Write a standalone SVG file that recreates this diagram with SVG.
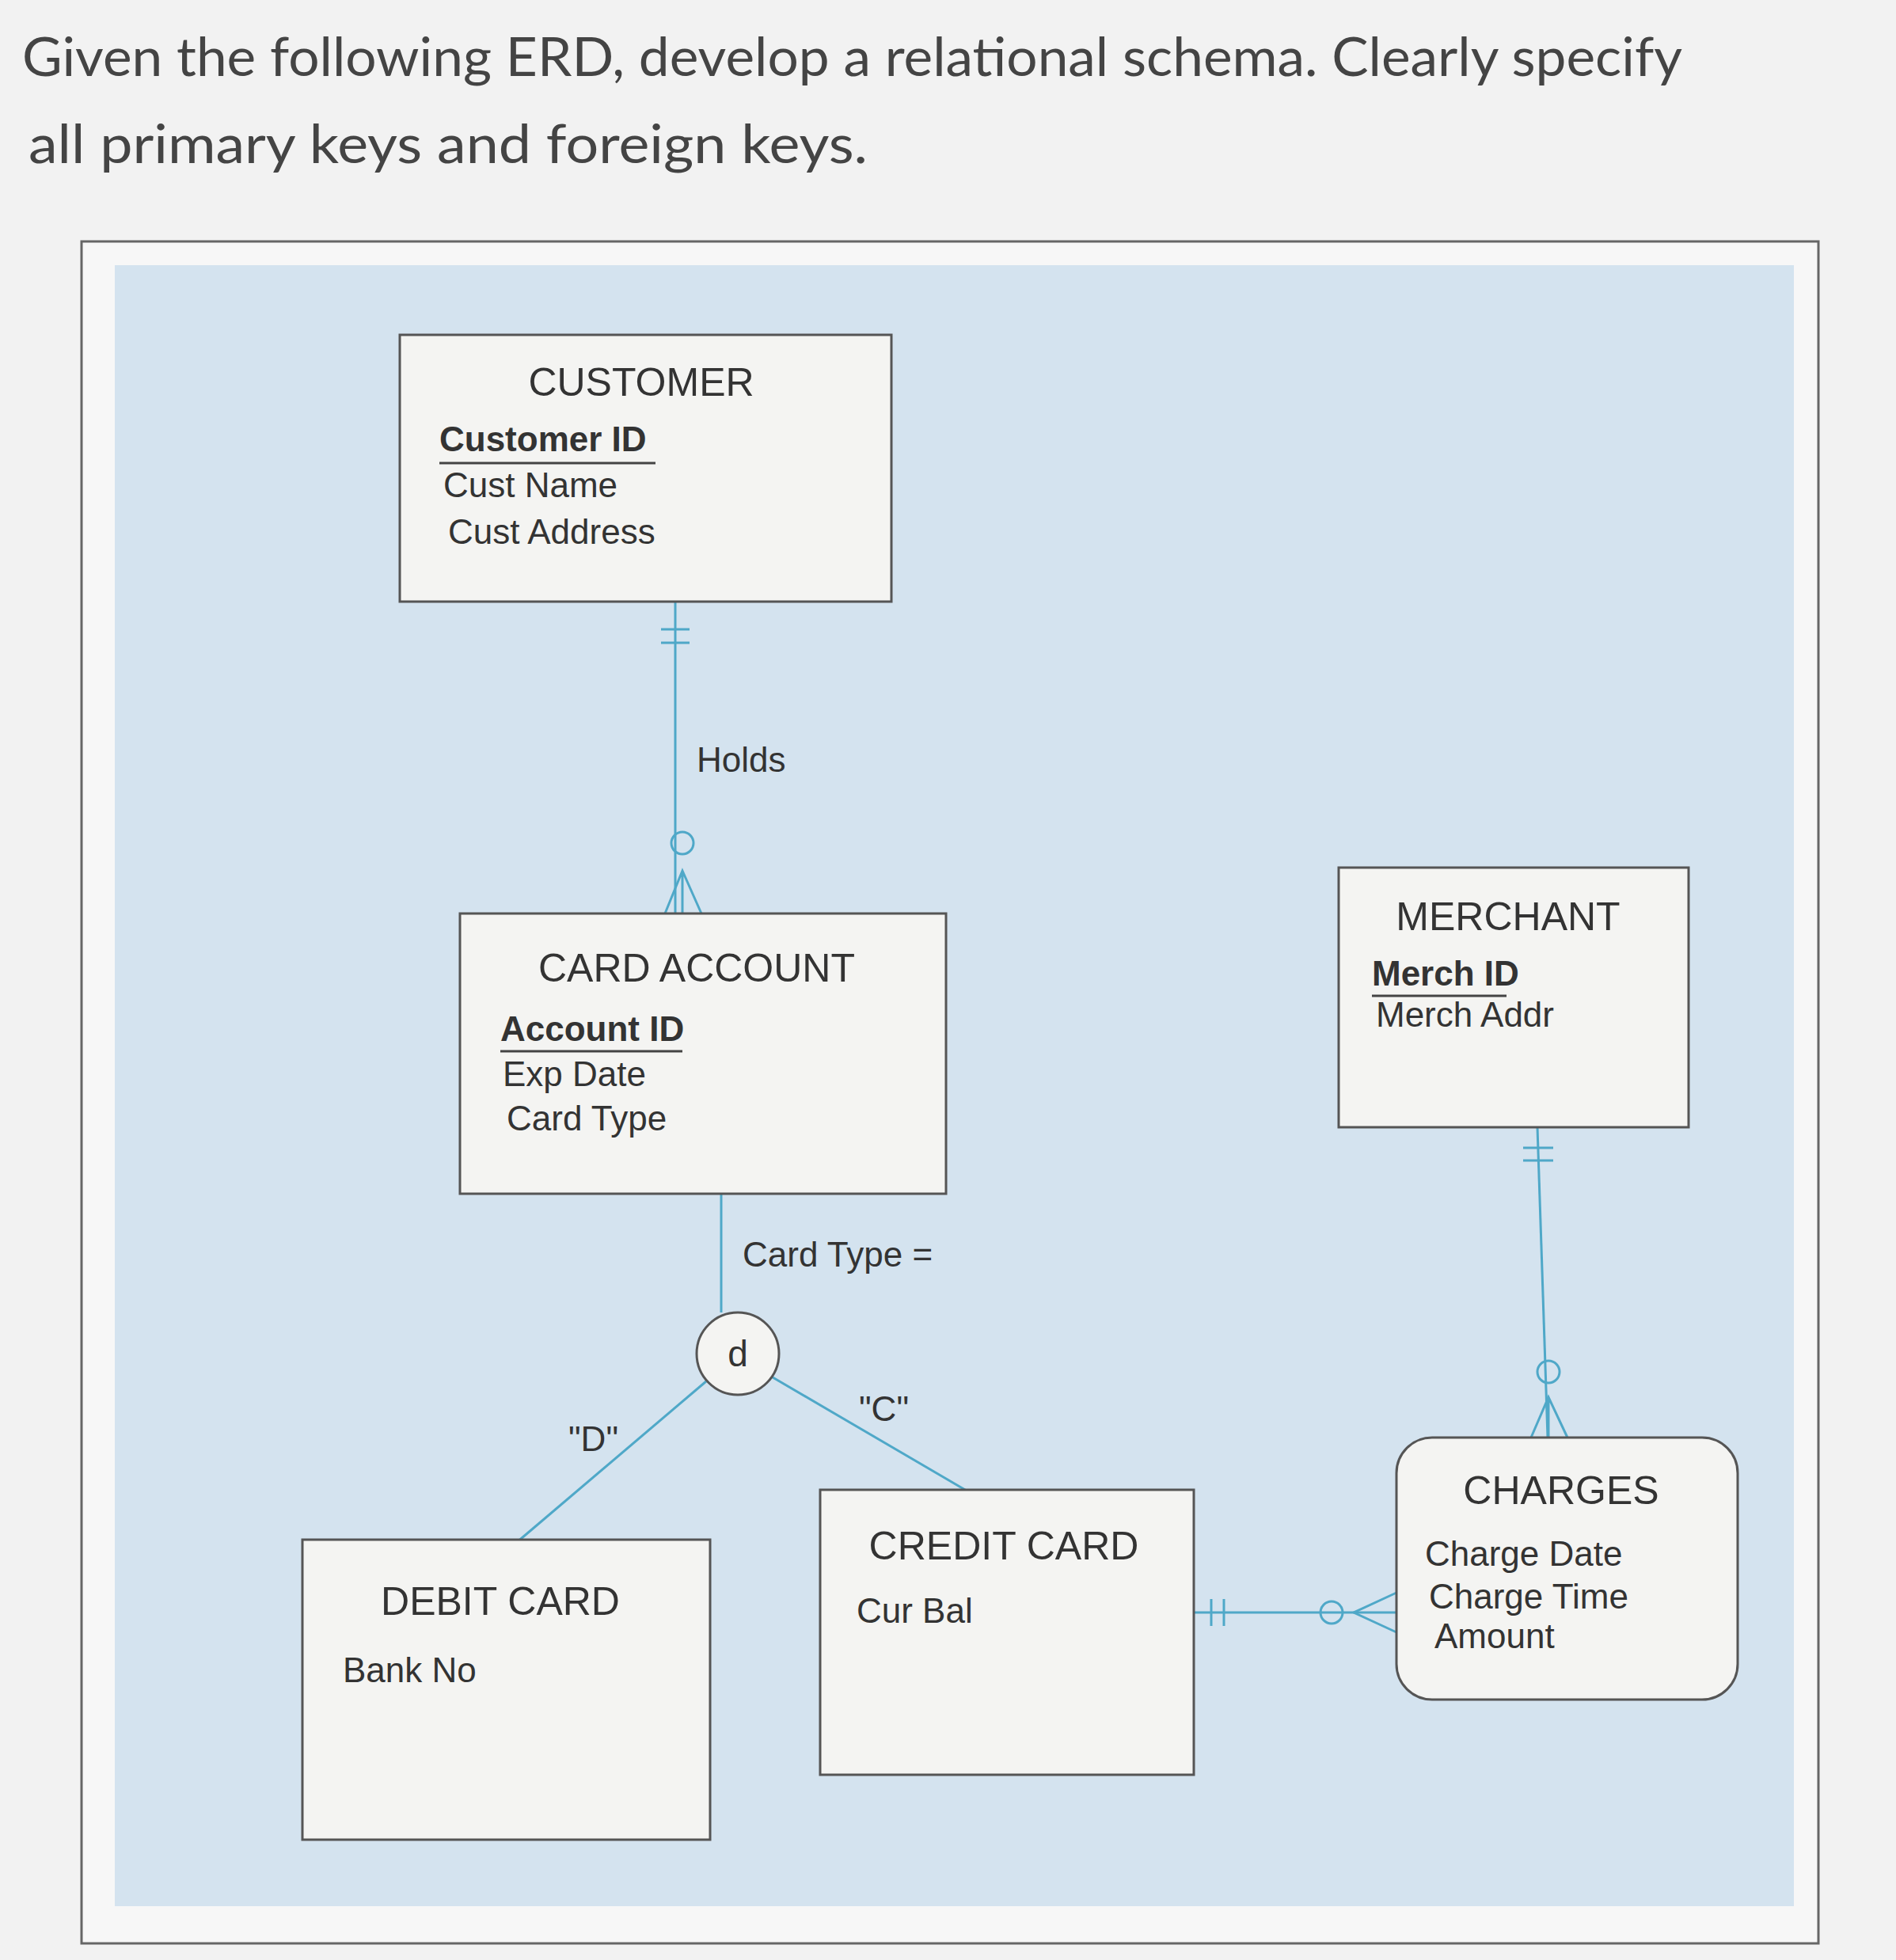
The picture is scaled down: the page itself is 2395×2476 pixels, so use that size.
<svg xmlns="http://www.w3.org/2000/svg" width="2395" height="2476" viewBox="0 0 2395 2476">
<style>
.t{font-family:"Liberation Sans",Arial,sans-serif;fill:#333}
.h{font-family:"Lato","Liberation Sans",sans-serif;fill:#444;font-size:68px}
.e{fill:#f4f4f2;stroke:#555;stroke-width:3}
.c{stroke:#4fa8c8;stroke-width:3;fill:none}
.n{font-size:50px}
.a{font-size:44px}
.u{stroke:#444;stroke-width:3}
</style>
<rect width="2395" height="2476" fill="#f2f2f2"/>
<text class="h" x="28" y="96" textLength="2097" lengthAdjust="spacingAndGlyphs">Given the following ERD, develop a relational schema. Clearly specify</text>
<text class="h" x="36" y="206" textLength="1060" lengthAdjust="spacingAndGlyphs">all primary keys and foreign keys.</text>
<rect x="103" y="305" width="2194" height="2150" fill="#f7f7f7" stroke="#666" stroke-width="3"/>
<rect x="145" y="335" width="2121" height="2073" fill="#d4e3ef"/>
<g id="connectors">
<line class="c" x1="853" y1="760" x2="853" y2="1154"/>
<line class="c" x1="835" y1="795" x2="871" y2="795"/><line class="c" x1="835" y1="812" x2="871" y2="812"/>
<circle class="c" cx="862" cy="1065" r="14"/>
<path class="c" d="M840 1154 L862 1100 L886 1154 M862 1100 L862 1154"/>
<line class="c" x1="911" y1="1508" x2="911" y2="1658"/>
<line class="c" x1="892" y1="1745" x2="632" y2="1966"/>
<line class="c" x1="971" y1="1737" x2="1255" y2="1903"/>
<line class="c" x1="1942" y1="1424" x2="1955" y2="1816"/>
<line class="c" x1="1924" y1="1450" x2="1962" y2="1450"/><line class="c" x1="1924" y1="1466" x2="1962" y2="1466"/>
<circle class="c" cx="1956" cy="1733" r="14"/>
<path class="c" d="M1934 1816 L1956 1765 L1980 1816 M1956 1765 L1956 1816"/>
<line class="c" x1="1508" y1="2037" x2="1764" y2="2037"/>
<line class="c" x1="1530" y1="2020" x2="1530" y2="2054"/><line class="c" x1="1546" y1="2020" x2="1546" y2="2054"/>
<circle class="c" cx="1682" cy="2037" r="14"/>
<path class="c" d="M1764 2012 L1710 2037 L1764 2062"/>
</g>
<g id="labels" class="t">
<text x="880" y="975" class="a">Holds</text>
<text x="938" y="1600" class="a">Card Type =</text>
<text x="718" y="1833" class="a">"D"</text>
<text x="1085" y="1795" class="a">"C"</text>
</g>
<g id="customer"><rect class="e" x="505" y="423" width="621" height="337"/>
<text class="t n" x="810" y="500" text-anchor="middle">CUSTOMER</text>
<text class="t a" x="555" y="570" font-weight="bold">Customer ID</text><line class="u" x1="555" y1="585" x2="828" y2="585"/>
<text class="t a" x="560" y="628">Cust Name</text><text class="t a" x="566" y="687">Cust Address</text></g>
<g id="card-account"><rect class="e" x="581" y="1154" width="614" height="354"/>
<text class="t n" x="880" y="1240" text-anchor="middle">CARD ACCOUNT</text>
<text class="t a" x="632" y="1315" font-weight="bold">Account ID</text><line class="u" x1="632" y1="1328" x2="862" y2="1328"/>
<text class="t a" x="635" y="1372">Exp Date</text><text class="t a" x="640" y="1428">Card Type</text></g>
<g id="d"><circle cx="932" cy="1710" r="52" fill="#f4f4f2" stroke="#555" stroke-width="3"/>
<text class="t" x="932" y="1726" font-size="46" text-anchor="middle">d</text></g>
<g id="merchant"><rect class="e" x="1691" y="1096" width="442" height="328"/>
<text class="t n" x="1905" y="1175" text-anchor="middle">MERCHANT</text>
<text class="t a" x="1733" y="1245" font-weight="bold">Merch ID</text><line class="u" x1="1733" y1="1258" x2="1903" y2="1258"/>
<text class="t a" x="1738" y="1297">Merch Addr</text></g>
<g id="charges"><rect class="e" x="1764" y="1816" width="431" height="331" rx="45"/>
<text class="t n" x="1972" y="1900" text-anchor="middle">CHARGES</text>
<text class="t a" x="1800" y="1978">Charge Date</text><text class="t a" x="1805" y="2032">Charge Time</text><text class="t a" x="1812" y="2082">Amount</text></g>
<g id="debit-card"><rect class="e" x="382" y="1945" width="515" height="379"/>
<text class="t n" x="632" y="2040" text-anchor="middle">DEBIT CARD</text>
<text class="t a" x="433" y="2125">Bank No</text></g>
<g id="credit-card"><rect class="e" x="1036" y="1882" width="472" height="360"/>
<text class="t n" x="1268" y="1970" text-anchor="middle">CREDIT CARD</text>
<text class="t a" x="1082" y="2050">Cur Bal</text></g>
</svg>
